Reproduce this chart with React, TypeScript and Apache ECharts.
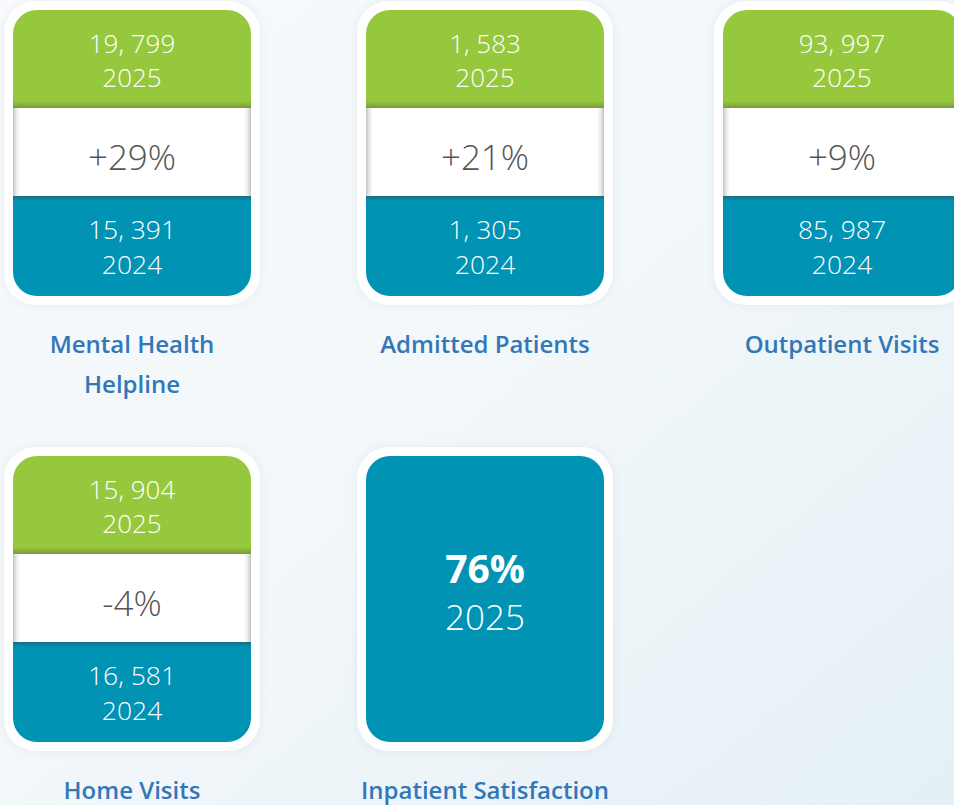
import React, { useEffect, useRef } from "react";
import * as echarts from "echarts";

const labels = ["Mental Health\nHelpline", "Admitted Patients", "Outpatient Visits", "Home Visits", "Inpatient Satisfaction"];
const values2025 = [19799, 1583, 93997, 15904];
const values2024 = [15391, 1305, 85987, 16581];
const changes = ["+29%", "+21%", "+9%", "-4%"];
const yearNew = "2025";
const yearOld = "2024";
const satisfaction = "76%";

const GREEN = "#95c83d";
const TEAL = "#0093b4";
const LABEL = "#3277b8";
const FONT = "'Open Sans', sans-serif";

const colX = [13, 366, 723];
const rowY = [10, 456];
const W = 238;
const H = 286;
const R = 24;

function fmt(n: number) {
  return n.toLocaleString("en-US").replace(/,/g, ", ");
}

function buildGraphics() {
  const els: any[] = [];
  labels.forEach((label, i) => {
    const x = colX[i % 3];
    const y = rowY[Math.floor(i / 3)];
    const cx = x + W / 2;
    els.push({
      type: "rect",
      shape: { x: x - 9, y: y - 9, width: W + 18, height: H + 18, r: R + 8 },
      style: { fill: "#ffffff", shadowBlur: 10, shadowColor: "rgba(0,40,80,0.06)" },
    });
    const txt = (t: string, ty: number, size: number, color: string, weight: any = 300) =>
      els.push({
        type: "text",
        x: cx,
        y: y + ty,
        style: {
          text: t,
          fill: color,
          font: `${weight} ${size}px ${FONT}`,
          align: "center",
          verticalAlign: "middle",
        },
      });
    if (i < values2025.length) {
      els.push({
        type: "rect",
        shape: { x, y, width: W, height: 98, r: [R, R, 0, 0] },
        style: {
          fill: new echarts.graphic.LinearGradient(0, 0, 0, 1, [
            { offset: 0, color: GREEN },
            { offset: 0.93, color: GREEN },
            { offset: 1, color: "#7a9a3b" },
          ]),
        },
      });
      els.push({
        type: "rect",
        shape: { x, y: y + 98, width: W, height: 88 },
        style: {
          fill: new echarts.graphic.LinearGradient(0, 0, 1, 0, [
            { offset: 0, color: "#c4c4c4" },
            { offset: 0.015, color: "#ececec" },
            { offset: 0.03, color: "#ffffff" },
            { offset: 0.97, color: "#ffffff" },
            { offset: 0.985, color: "#ececec" },
            { offset: 1, color: "#c4c4c4" },
          ]),
        },
      });
      els.push({
        type: "rect",
        shape: { x, y: y + 186, width: W, height: 100, r: [0, 0, R, R] },
        style: {
          fill: new echarts.graphic.LinearGradient(0, 0, 0, 1, [
            { offset: 0, color: "#1b6c80" },
            { offset: 0.05, color: TEAL },
            { offset: 1, color: TEAL },
          ]),
        },
      });
      txt(fmt(values2025[i]), 33, 26, "#ffffff");
      txt(yearNew, 67, 26, "#ffffff");
      txt(changes[i], 146, 35, "#555555");
      txt(fmt(values2024[i]), 219, 26.5, "#ffffff");
      txt(yearOld, 254, 26.5, "#ffffff");
    } else {
      els.push({
        type: "rect",
        shape: { x, y, width: W, height: H, r: R },
        style: { fill: TEAL },
      });
      txt(satisfaction, 111, 39, "#ffffff", 700);
      txt(yearNew, 160, 35, "#ffffff", 300);
    }
    els.push({
      type: "text",
      x: cx,
      y: y + 313,
      style: {
        text: label,
        fill: LABEL,
        font: `600 24px ${FONT}`,
        align: "center",
        verticalAlign: "top",
        lineHeight: 40,
      },
    });
  });
  return els;
}

export default function App() {
  const ref = useRef<HTMLDivElement>(null);
  useEffect(() => {
    if (!ref.current) return;
    const chart = echarts.init(ref.current, undefined, { renderer: "svg" });
    chart.setOption({
      animation: false,
      backgroundColor: new echarts.graphic.LinearGradient(0, 0, 1, 1, [
        { offset: 0, color: "#f8fafc" },
        { offset: 0.5, color: "#f2f7fa" },
        { offset: 1, color: "#e4f0f5" },
      ]),
      graphic: buildGraphics(),
    });
    return () => chart.dispose();
  }, []);
  return <div ref={ref} style={{ position: "fixed", left: 0, top: 0, width: 954, height: 805 }} />;
}
